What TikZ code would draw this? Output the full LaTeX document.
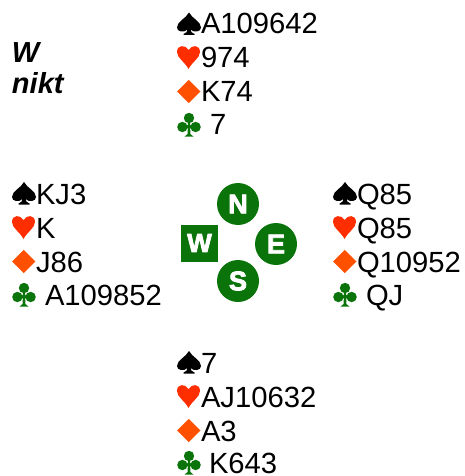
\documentclass[tikz,border=0pt]{standalone}
\usepackage{fontspec}
\setmainfont{Liberation Sans}
\newfontfamily\seatfont[FakeBold=3]{Liberation Sans Bold}
\definecolor{hrt}{HTML}{FF2E00}
\definecolor{dia}{HTML}{FF5000}
\definecolor{grn}{HTML}{0A740A}
\tikzset{
  x=1pt,y=-1pt,
  hand/.style={anchor=base west,inner sep=0pt,outer sep=0pt,font=\fontsize{29.2}{29}\selectfont,text=black},
  contract/.style={anchor=base west,inner sep=0pt,outer sep=0pt,font=\fontsize{29}{29}\selectfont\bfseries\itshape},
  seatround/.style={circle,fill=grn,minimum size=42pt,inner sep=0pt,text=white,font=\seatfont\fontsize{27}{27}\selectfont},
  seatsquare/.style={rectangle,fill=grn,minimum size=37pt,inner sep=0pt,text=white,font=\seatfont\fontsize{26}{26}\selectfont},
  spadepic/.pic={\fill[black] (12,-22) .. controls (9,-16) and (0,-13) .. (0,-7) .. controls (0,-2.5) and (7,-1.5) .. (10.5,-5) .. controls (10.5,-3) and (9,-1) .. (6.5,-0.5) -- (6.5,0.5) -- (17.5,0.5) -- (17.5,-0.5) .. controls (15,-1) and (13.5,-3) .. (13.5,-5) .. controls (17,-1.5) and (24,-2.5) .. (24,-7) .. controls (24,-13) and (15,-16) .. (12,-22) -- cycle;},
  heartpic/.pic={\fill[hrt] (11.5,1) .. controls (8,-6) and (0,-10) .. (0,-16) .. controls (0,-23.5) and (8.5,-23.5) .. (11.5,-18) .. controls (14.5,-23.5) and (23,-23.5) .. (23,-16) .. controls (23,-10) and (15,-6) .. (11.5,1) -- cycle;},
  diamondpic/.pic={\fill[dia] (11.75,-22) -- (23.5,-10.5) -- (11.75,1) -- (0,-10.5) -- cycle;},
  clubpic/.pic={\fill[grn] (12,-17) circle (5.2) (5.4,-8) circle (5.2) (18.6,-8) circle (5.2);
    \fill[grn] (10.8,-13) -- (13.2,-13) -- (13.2,-10) -- (15,-8.8) -- (15,-7.2) -- (13.2,-6.5) -- (13.4,-1) -- (16.5,1.6) -- (7.5,1.6) -- (10.6,-1) -- (10.8,-6.5) -- (9,-7.2) -- (9,-8.8) -- (10.8,-10) -- cycle;}
}
\begin{document}
\begin{tikzpicture}
\useasboundingbox (0,0) rectangle (464,476);
% contract
\node[contract] (seat) at (12,63) {W};
\node[contract] (vuln) at (12,94) {nikt};
% north
\pic at (177,34.5) {spadepic}; \node[hand] (ns) at (201,34) {A109642};
\pic at (177,68) {heartpic}; \node[hand] (nh) at (201,68) {974};
\pic at (177,102) {diamondpic}; \node[hand] (nd) at (201,102) {K74};
\pic at (177,135) {clubpic}; \node[hand] (nc) at (210,135) {7};
% west
\pic at (12,204) {spadepic}; \node[hand] (ws) at (36,204) {KJ3};
\pic at (12,238) {heartpic}; \node[hand] (wh) at (36,238) {K};
\pic at (12,272) {diamondpic}; \node[hand] (wd) at (36,272) {J86};
\pic at (12,305) {clubpic}; \node[hand] (wc) at (45,305) {A109852};
% east
\pic at (333,204) {spadepic}; \node[hand] (es) at (357,204) {Q85};
\pic at (333,238) {heartpic}; \node[hand] (eh) at (357,238) {Q85};
\pic at (333,272) {diamondpic}; \node[hand] (ed) at (357,272) {Q10952};
\pic at (333,305) {clubpic}; \node[hand] (ec) at (366,305) {QJ};
% south
\pic at (177,373) {spadepic}; \node[hand] (ss) at (201,373) {7};
\pic at (177,407) {heartpic}; \node[hand] (sh) at (201,407) {AJ10632};
\pic at (177,441) {diamondpic}; \node[hand] (sd) at (201,441) {A3};
\pic at (177,473) {clubpic}; \node[hand] (sc) at (209,473.5) {K643};
% compass
\node[seatround] (N) at (238,204) {N};
\node[seatround] (E) at (276,244) {E};
\node[seatround] (S) at (238,281) {S};
\node[seatsquare] (W) at (199.5,243) {W};
\end{tikzpicture}
\end{document}
